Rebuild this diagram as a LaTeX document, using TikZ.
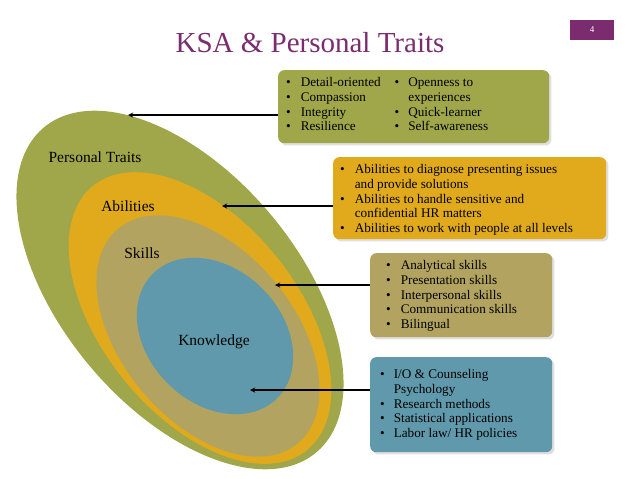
\documentclass[tikz,border=0pt]{standalone}
\usepackage{fontspec}
\setmainfont{Liberation Serif}
\usetikzlibrary{positioning,shadows}
\definecolor{traitgreen}{HTML}{A0A64A}
\definecolor{abilgold}{HTML}{E0AA1C}
\definecolor{skilltan}{HTML}{B2A460}
\definecolor{knowblue}{HTML}{6099AC}
\definecolor{titlepurple}{HTML}{7A2C6E}
\newcommand{\bl}{\textbullet}
\begin{document}
\begin{tikzpicture}[x=1pt, y=1pt,
  infobox/.style={rounded corners=6pt, drop shadow={opacity=0.25}, anchor=north west, inner sep=0pt},
  boxtext/.style={font=\fontsize{13.2}{14.8}\selectfont, anchor=north west, inner sep=0pt},
  lbl/.style={font=\fontsize{15.5}{17}\selectfont},
  arr/.style={arrows=-stealth, line width=0.45mm}]
\useasboundingbox (0,0) rectangle (638,-479);
% title
\node (title) [text=titlepurple, font=\fontsize{29}{32}\selectfont] at (310,-43) {KSA \& Personal Traits};
\node (page)[fill=titlepurple, text=white, minimum width=44pt, minimum height=20pt, font=\fontsize{9}{10}\selectfont] at (592,-30) {4};
% ellipses
\fill[traitgreen] (180,-290) ellipse [x radius=212, y radius=118, rotate=-50];
\fill[abilgold] (200,-318) ellipse [x radius=170, y radius=98, rotate=-51];
\fill[skilltan] (208,-336) ellipse [x radius=140, y radius=86, rotate=-50];
\fill[knowblue] (215,-336) ellipse [x radius=88, y radius=67, rotate=-45];
\node (pt)[lbl] at (95,-157) {Personal Traits};
\node (ab)[lbl] at (128,-206) {Abilities};
\node (sk)[lbl] at (142,-253) {Skills};
\node (kn)[lbl] at (214,-342) {Knowledge};
% boxes
\node (b1)[infobox, fill=traitgreen, minimum width=271pt, minimum height=73pt] at (278,-70) {};
\node (t1)[boxtext] at (286,-76) {%
  \begin{tabular}{@{}c@{\hspace{10pt}}l@{\hspace{14pt}}c@{\hspace{9pt}}l@{}}
  \bl & Detail-oriented & \bl & Openness to\\
  \bl & Compassion & & experiences\\
  \bl & Integrity & \bl & Quick-learner\\
  \bl & Resilience & \bl & Self-awareness
  \end{tabular}};
\node (b2)[infobox, fill=abilgold, minimum width=273pt, minimum height=82pt] at (333,-157) {};
\node (t2)[boxtext] at (340,-163) {%
  \begin{tabular}{@{}c@{\hspace{10pt}}l@{}}
  \bl & Abilities to diagnose presenting issues\\
      & and provide solutions\\
  \bl & Abilities to handle sensitive and\\
      & confidential HR matters\\
  \bl & Abilities to work with people at all levels
  \end{tabular}};
\node (b3)[infobox, fill=skilltan, minimum width=182pt, minimum height=84pt] at (370,-253) {};
\node (t3)[boxtext] at (386,-259) {%
  \begin{tabular}{@{}c@{\hspace{10pt}}l@{}}
  \bl & Analytical skills\\
  \bl & Presentation skills\\
  \bl & Interpersonal skills\\
  \bl & Communication skills\\
  \bl & Bilingual
  \end{tabular}};
\node (b4)[infobox, fill=knowblue, minimum width=182pt, minimum height=95pt] at (370,-357) {};
\node (t4)[boxtext] at (380,-368) {%
  \begin{tabular}{@{}c@{\hspace{9pt}}l@{}}
  \bl & I/O \& Counseling\\
      & Psychology\\
  \bl & Research methods\\
  \bl & Statistical applications\\
  \bl & Labor law/ HR policies
  \end{tabular}};
% arrows
\coordinate (e1) at (128,-115);
\coordinate (e2) at (222,-206);
\coordinate (e3) at (275,-285);
\coordinate (e4) at (250,-390);
\draw[arr] (b1.west |- e1) -- (e1);
\draw[arr] (b2.west |- e2) -- (e2);
\draw[arr] (b3.west |- e3) -- (e3);
\draw[arr] (b4.west |- e4) -- (e4);
\end{tikzpicture}
\end{document}
